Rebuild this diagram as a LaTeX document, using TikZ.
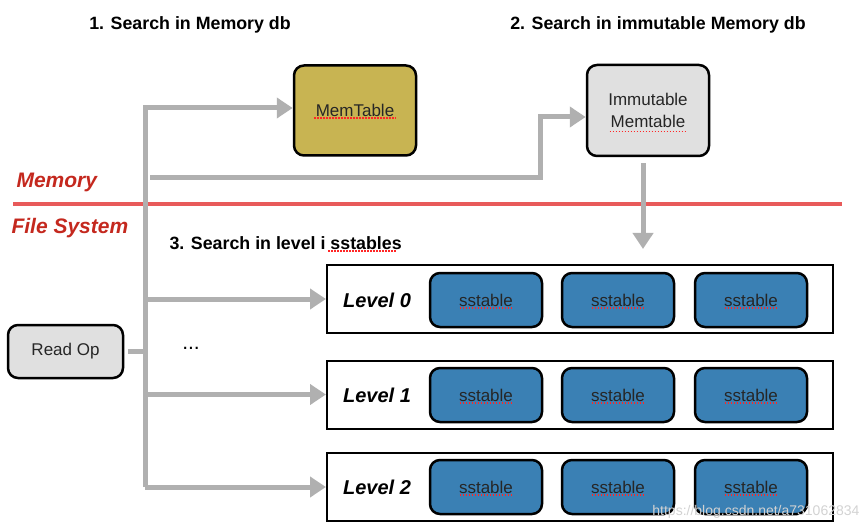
\documentclass[tikz,border=0pt]{standalone}
\usepackage{fontspec}
\setmainfont{Liberation Sans}
\usetikzlibrary{arrows.meta,calc}
\definecolor{arrowgray}{RGB}{176,176,176}
\definecolor{memfill}{RGB}{200,180,82}
\definecolor{boxgray}{RGB}{224,224,224}
\definecolor{ssblue}{RGB}{58,128,180}
\definecolor{labred}{RGB}{196,40,30}
\definecolor{linered}{RGB}{232,90,90}
\begin{document}
\begin{tikzpicture}[x=1pt,y=-1pt,
  arr/.style={draw=arrowgray,line width=5pt,-{Triangle[length=16pt,width=20pt]}},
  pipe/.style={draw=arrowgray,line width=5pt},
  rbox/.style={draw=black,line width=2.5pt,rounded corners=10pt,inner sep=0pt,align=center,
    font=\fontsize{17}{22}\selectfont,text=black!85},
  ssbox/.style={rbox,fill=ssblue,minimum width=112pt,minimum height=54pt},
  levbox/.style={draw=black,line width=2pt,minimum width=506pt,minimum height=68pt,inner sep=0pt},
  levtext/.style={font=\fontsize{20}{24}\selectfont\bfseries\itshape},
  title/.style={font=\fontsize{17.8}{21}\selectfont\bfseries},
  redlab/.style={font=\fontsize{21}{25}\selectfont\bfseries\itshape,text=labred,anchor=west},
  spell/.style={draw=red!85,line width=1.2pt,dash pattern=on 1.5pt off 1.5pt}
]
\useasboundingbox (0,0) rectangle (863,532);

% titles
\node[title] (t1) at (190,25) {1. Search in Memory db};
\node[title] (t2) at (658,25) {2. Search in immutable Memory db};
\node[title,anchor=west] (t3) at (166,243) {3. Search in level i sstables};

% memory boxes
\node[rbox,fill=memfill,minimum width=122pt,minimum height=90pt] (mem) at (355,110.5) {MemTable};
\node[rbox,fill=boxgray,minimum width=122pt,minimum height=91pt] (imm) at (648,110.5) {Immutable\\Memtable};
\node[rbox,fill=boxgray,minimum width=115pt,minimum height=53pt] (read) at (65.5,351.5) {Read Op};

% memory / file system separation
\draw[linered,line width=4pt] (13,204) -- (842,204);
\node[redlab] (memlab) at (13,182) {Memory};
\node[redlab] (fslab) at (8,228) {File System};

% levels
\node[levbox] (lev0) at (580,299) {};
\node[levbox] (lev1) at (580,394.5) {};
\node[levbox] (lev2) at (580,486.5) {};
\foreach \l/\y in {0/300,1/395,2/487}{
  \node[levtext] (lt\l) at (377,\y) {Level \l};
  \node[ssbox] (ssA\l) at (486,\y) {sstable};
  \node[ssbox] (ssB\l) at (618,\y) {sstable};
  \node[ssbox] (ssC\l) at (751,\y) {sstable};
  \draw[spell] ($(ssA\l.center)+(-26.5,8)$) -- ($(ssA\l.center)+(26.5,8)$);
  \draw[spell] ($(ssB\l.center)+(-26.5,8)$) -- ($(ssB\l.center)+(26.5,8)$);
  \draw[spell] ($(ssC\l.center)+(-26.5,8)$) -- ($(ssC\l.center)+(26.5,8)$);
}

% spell-check underlines
\draw[spell] ($(mem.center)+(-41,7.5)$) -- ($(mem.center)+(41,7.5)$);
\draw[spell] ($(imm.center)+(-38.5,21)$) -- ($(imm.center)+(38.5,21)$);
\draw[spell] (328,251) -- (397,251);

% connectors
\coordinate (tt) at (145,108);
\coordinate (tb) at (145,487);
\draw[arr] (tb) -- (tt) -- (tt -| mem.west);
\draw[pipe,shorten <=4pt] (read.east) -- (read.east -| tt);
\draw[arr] (lev0.west -| tt) -- (lev0.west);
\draw[arr] (lev1.west -| tt) -- (lev1.west);
\draw[arr] (tb) -- (tb -| lev2.west);

\coordinate (i1) at (150,178);
\coordinate (i2) at (540,178);
\coordinate (i3) at (540,117);
\draw[arr] (i1) -- (i2) -- (i3) -- (i3 -| imm.west);

\coordinate (dn) at (643,249);
\draw[arr] ($(dn |- imm.south)+(0,6)$) -- (dn);

% dots
\node[font=\fontsize{21}{24}\selectfont] (dots) at (191,348) {...};

% watermark
\node[font=\fontsize{14}{16}\selectfont,text=gray!35,anchor=east] (wm) at (863,512) {https://blog.csdn.net/a731062834};
\end{tikzpicture}
\end{document}
